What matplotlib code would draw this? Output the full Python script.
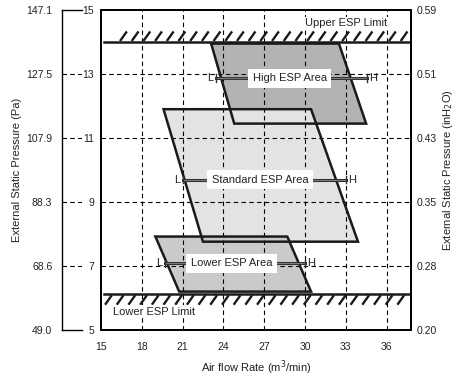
import matplotlib.pyplot as plt
import numpy as np

plt.rcParams['font.family'] = ['Liberation Sans', 'DejaVu Sans']

# eixos
mm_ticks = [5, 7, 9, 11, 13, 15]
pa_labels = ['49.0', '68.6', '88.3', '107.9', '127.5', '147.1']
inh2o_labels = ['0.20', '0.28', '0.35', '0.43', '0.51', '0.59']
x_ticks = [15, 18, 21, 24, 27, 30, 33, 36]

# limites
upper_limit = 14.0
lower_limit = 6.12

# areas (alta, padrao, baixa)
area_names = ['High ESP Area', 'Standard ESP Area', 'Lower ESP Area']
top_y = [13.95, 11.9, 7.92]
bottom_y = [11.45, 7.76, 6.2]
top_x_left = [23.1, 19.6, 19.0]
top_x_right = [32.5, 30.45, 28.7]
bot_x_left = [24.8, 22.5, 20.75]
bot_x_right = [34.5, 33.9, 30.45]
area_colors = ['#b3b3b3', '#e3e3e3', '#cacaca']

# linhas L-H
lh_y = [12.87, 9.7, 7.08]
lh_x_low = [23.45, 21.0, 19.7]
lh_x_high = [34.6, 33.0, 30.0]
label_x = [28.9, 26.7, 24.6]

txt = '#222222'
W, H = 458, 376
fig = plt.figure(figsize=(W / 100, H / 100), dpi=100)
ax = fig.add_axes([101 / W, 46 / H, 310 / W, 320 / H])
ax.set_xlim(15, 37.8)
ax.set_ylim(5, 15)

# eixo Pa separado
ax_pa = fig.add_axes([62 / W, 46 / H, 20 / W, 320 / H])
ax_pa.set_ylim(5, 15)
ax_pa.set_xlim(0, 1)
ax_pa.set_xticks([])
ax_pa.set_yticks(mm_ticks)
ax_pa.set_yticklabels(pa_labels)
ax_pa.tick_params(axis='y', length=0, pad=7, labelsize=7.5, labelcolor=txt)
ax_pa.spines['right'].set_visible(False)
for s in ['left', 'top', 'bottom']:
    ax_pa.spines[s].set_linewidth(1.0)
for yv in mm_ticks[1:-1]:
    ax_pa.axhline(yv, color='black', lw=0.8, ls=(0, (4, 3)))
ax_pa.set_ylabel('External Static Pressure (Pa)', fontsize=8, color=txt, labelpad=3)

# grade
for xv in x_ticks[1:]:
    ax.axvline(xv, color='black', lw=0.8, ls=(0, (4, 3)), zorder=2)
for yv in mm_ticks[1:-1]:
    ax.axhline(yv, color='black', lw=0.8, ls=(0, (4, 3)), zorder=2)

# areas
for i in range(len(area_names)):
    pts = np.array([[top_x_left[i], top_y[i]], [top_x_right[i], top_y[i]],
                    [bot_x_right[i], bottom_y[i]], [bot_x_left[i], bottom_y[i]]])
    ax.add_patch(plt.Polygon(pts, closed=True, facecolor=area_colors[i],
                             edgecolor='none', zorder=1))
    ax.add_patch(plt.Polygon(pts, closed=True, facecolor='none',
                             edgecolor='#1a1a1a', lw=1.8, zorder=3))

    # linha L-H
    ax.plot([lh_x_low[i], lh_x_high[i]], [lh_y[i], lh_y[i]], color='#333333', lw=2.2, zorder=4)
    ax.plot([lh_x_low[i], lh_x_high[i]], [lh_y[i], lh_y[i]], color='#9a9a9a', lw=0.5, zorder=4)
    for xe in [lh_x_low[i], lh_x_high[i]]:
        ax.plot([xe, xe], [lh_y[i] - 0.12, lh_y[i] + 0.12], color='#333333', lw=1.0, zorder=4)
    ax.annotate('L', (lh_x_low[i], lh_y[i]), xytext=(-2, 0), textcoords='offset points',
                ha='right', va='center', fontsize=8, color=txt, zorder=6)
    ax.annotate('H', (lh_x_high[i], lh_y[i]), xytext=(1.5, 0), textcoords='offset points',
                ha='left', va='center', fontsize=8, color=txt, zorder=6)
    ax.text(label_x[i], lh_y[i], area_names[i], ha='center', va='center', fontsize=8,
            color=txt, zorder=6,
            bbox=dict(boxstyle='square,pad=0.4', facecolor='white', edgecolor='none'))

# limites com hachuras
ax.plot([15.2, 37.8], [upper_limit, upper_limit], color='#1a1a1a', lw=1.8, zorder=3)
ax.plot([15.2, 37.65], [lower_limit, lower_limit], color='#1a1a1a', lw=1.8, zorder=3)
for xh in np.arange(16.4, 37.4, 0.86):
    ax.plot([xh, xh + 0.5], [upper_limit + 0.03, upper_limit + 0.33], color='#1a1a1a',
            lw=1.7, solid_capstyle='butt', zorder=3)
for xh in np.arange(15.3, 37.2, 0.86):
    ax.plot([xh, xh + 0.5], [lower_limit - 0.33, lower_limit - 0.03], color='#1a1a1a',
            lw=1.7, solid_capstyle='butt', zorder=3)
ax.text(33.0, 14.58, 'Upper ESP Limit', ha='center', va='center', fontsize=8, color=txt,
        zorder=6, bbox=dict(boxstyle='square,pad=0.15', facecolor='white', edgecolor='none'))
ax.text(18.9, 5.57, 'Lower ESP Limit', ha='center', va='center', fontsize=8, color=txt,
        zorder=6, bbox=dict(boxstyle='square,pad=0.15', facecolor='white', edgecolor='none'))

# ticks
ax.set_xticks(x_ticks)
ax.set_yticks(mm_ticks)
ax.tick_params(axis='both', length=0, labelsize=7.5, labelcolor=txt)
ax.tick_params(axis='x', pad=9)
ax.tick_params(axis='y', pad=5)
ax.set_xlabel('Air flow Rate (m$^3$/min)', fontsize=8, color=txt, labelpad=4)
ax.set_ylabel('External Static Pressure (mmH$_2$O)', fontsize=8, color=txt, labelpad=2)
for s in ax.spines.values():
    s.set_linewidth(1.3)

ax_r = ax.twinx()
ax_r.set_ylim(5, 15)
ax_r.set_yticks(mm_ticks)
ax_r.set_yticklabels(inh2o_labels)
ax_r.tick_params(axis='y', length=0, pad=4, labelsize=7.5, labelcolor=txt)
ax_r.set_ylabel('External Static Pressure (inH$_2$O)', fontsize=8, color=txt, labelpad=3)
for s in ax_r.spines.values():
    s.set_linewidth(1.3)

fig.savefig('out.png', dpi=100)
